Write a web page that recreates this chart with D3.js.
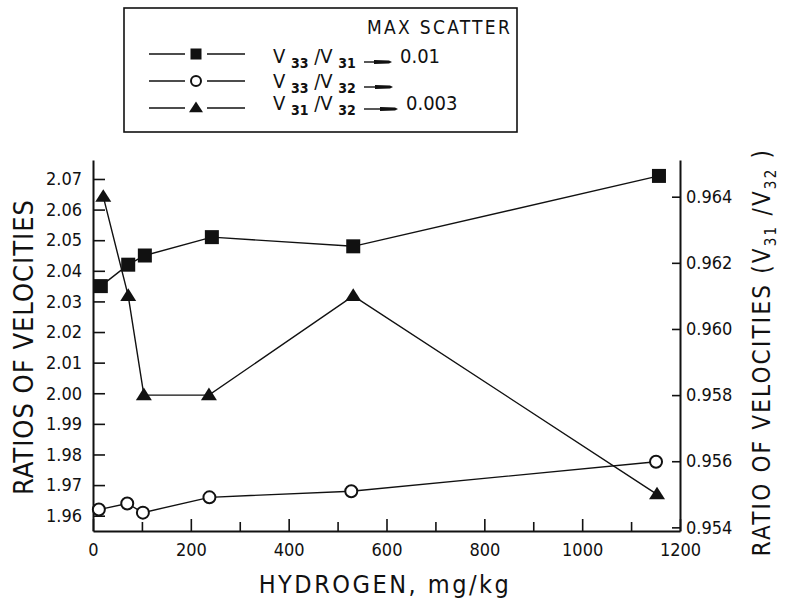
<!DOCTYPE html>
<html>
<head>
<meta charset="utf-8">
<script src="https://cdn.jsdelivr.net/npm/d3@7"></script>
<style>
  body { margin: 0; background: #fff; }
  svg text { font-family: "DejaVu Sans Condensed", "Liberation Sans Narrow", "DejaVu Sans", sans-serif; fill: #111; }
</style>
</head>
<body>
<script>
// data
const hydrogenV3331 = [16, 72, 106, 243, 532, 1157];
const ratioV3331 = [2.035, 2.042, 2.045, 2.051, 2.048, 2.071];

const hydrogenV3332 = [12, 70, 102, 238, 528, 1151];
const ratioV3332 = [1.962, 1.964, 1.961, 1.966, 1.968, 1.9776];

const hydrogenV3132 = [21, 72, 104, 237, 532, 1153];
const ratioV3132 = [0.964, 0.961, 0.958, 0.958, 0.961, 0.955];

const xTicks = [0, 100, 200, 300, 400, 500, 600, 700, 800, 900, 1000, 1100, 1200];
const leftTicks = [1.96, 1.97, 1.98, 1.99, 2.00, 2.01, 2.02, 2.03, 2.04, 2.05, 2.06, 2.07];
const rightTicks = [0.954, 0.956, 0.958, 0.960, 0.962, 0.964];

const width = 789;
const height = 603;

const svg = d3.select('body')
  .append('svg')
  .attr('width', width)
  .attr('height', height);

// scales
const x = d3.scaleLinear().domain([0, 1200]).range([93, 680]);
const yLeft = d3.scaleLinear().domain([1.955, 2.0762]).range([531, 160]);
const yRight = d3.scaleLinear().domain([0.95389, 0.96511]).range([531, 160]);

const ink = '#111';

// axes
const xAxis = d3.axisBottom(x)
  .tickValues(xTicks)
  .tickSize(0)
  .tickFormat(d => d % 200 === 0 ? d : '');

const gx = svg.append('g')
  .attr('transform', `translate(0, ${yLeft.range()[0]})`)
  .call(xAxis);
gx.select('.domain').attr('stroke', ink).attr('stroke-width', 2);
gx.selectAll('.tick line')
  .attr('y2', d => d % 200 === 0 ? -12 : -9)
  .attr('stroke', ink)
  .attr('stroke-width', 1.6);
gx.selectAll('.tick text')
  .attr('y', 12)
  .attr('font-size', 18)
  .style('font-family', null);

const gl = svg.append('g')
  .attr('transform', `translate(${x(0)}, 0)`)
  .call(d3.axisLeft(yLeft).tickValues(leftTicks).tickSize(-12).tickSizeOuter(0).tickPadding(11).tickFormat(d3.format('.2f')));
gl.select('.domain').attr('stroke', ink).attr('stroke-width', 2);
gl.selectAll('.tick line').attr('stroke', ink).attr('stroke-width', 1.6);
gl.selectAll('.tick text').attr('font-size', 18).style('font-family', null);

const gr = svg.append('g')
  .attr('transform', `translate(${x(1200)}, 0)`)
  .call(d3.axisRight(yRight).tickValues(rightTicks).tickSize(-8).tickSizeOuter(0).tickPadding(6).tickFormat(d3.format('.3f')));
gr.select('.domain').attr('stroke', ink).attr('stroke-width', 2);
gr.selectAll('.tick line').attr('stroke', ink).attr('stroke-width', 1.6);
gr.selectAll('.tick text').attr('font-size', 18).style('font-family', null);
svg.selectAll('.domain').attr('fill', 'none');

// axis titles
svg.append('text')
  .attr('x', 385)
  .attr('y', 593)
  .attr('text-anchor', 'middle')
  .attr('font-size', 25)
  .attr('letter-spacing', 2.5)
  .text('HYDROGEN, mg/kg');

svg.append('text')
  .attr('transform', 'translate(33, 347) rotate(-90)')
  .attr('text-anchor', 'middle')
  .attr('font-size', 27)
  .attr('letter-spacing', 1)
  .text('RATIOS OF VELOCITIES');

const rTitle = svg.append('text')
  .attr('transform', 'translate(770, 352) rotate(-90)')
  .attr('text-anchor', 'middle')
  .attr('font-size', 24)
  .attr('letter-spacing', 2.2);
rTitle.append('tspan').text('RATIO OF VELOCITIES (V');
rTitle.append('tspan').attr('font-size', 15).attr('dy', 6).text('31');
rTitle.append('tspan').attr('dy', -6).text(' /V');
rTitle.append('tspan').attr('font-size', 15).attr('dy', 6).text('32');
rTitle.append('tspan').attr('dy', -6).text(' )');

// series
const series = [
  { xs: hydrogenV3331, ys: ratioV3331, y: yLeft, marker: 'square' },
  { xs: hydrogenV3332, ys: ratioV3332, y: yLeft, marker: 'circle' },
  { xs: hydrogenV3132, ys: ratioV3132, y: yRight, marker: 'triangle' }
];

const line = d3.line();

function drawMarker(g, type, cx, cy, s) {
  if (type === 'square') {
    g.append('rect')
      .attr('x', cx - s / 2).attr('y', cy - s / 2)
      .attr('width', s).attr('height', s)
      .attr('fill', ink);
  } else if (type === 'circle') {
    g.append('circle')
      .attr('cx', cx).attr('cy', cy).attr('r', s / 2 - 1)
      .attr('fill', '#fff').attr('stroke', ink).attr('stroke-width', 2);
  } else {
    const h = s * 0.9;
    g.append('path')
      .attr('d', `M${cx},${cy - h * 0.6}L${cx + s / 2 + 1},${cy + h * 0.4}L${cx - s / 2 - 1},${cy + h * 0.4}Z`)
      .attr('fill', ink);
  }
}

series.forEach(s => {
  const pts = s.xs.map((d, i) => [x(d), s.y(s.ys[i])]);
  svg.append('path')
    .attr('d', line(pts))
    .attr('fill', 'none')
    .attr('stroke', ink)
    .attr('stroke-width', 1.4);
  const g = svg.append('g');
  pts.forEach(p => drawMarker(g, s.marker, p[0], p[1], 14));
});

// legend
svg.append('rect')
  .attr('x', 124).attr('y', 8)
  .attr('width', 393).attr('height', 124)
  .attr('fill', 'none')
  .attr('stroke', ink)
  .attr('stroke-width', 1.6);

svg.append('text')
  .attr('x', 367).attr('y', 34)
  .attr('font-size', 19)
  .attr('letter-spacing', 2.3)
  .text('MAX SCATTER');

const legendRows = [
  { marker: 'square', a: '33', b: '31', scatter: '0.01' },
  { marker: 'circle', a: '33', b: '32', scatter: '' },
  { marker: 'triangle', a: '31', b: '32', scatter: '0.003' }
];
const rowY = [54, 81, 108];
const textY = [63, 88, 110];
const arrowEnd = [392, 393, 398];

legendRows.forEach((r, i) => {
  const cy = rowY[i];
  const g = svg.append('g');
  g.append('line').attr('x1', 149).attr('x2', 185).attr('y1', cy).attr('y2', cy)
    .attr('stroke', ink).attr('stroke-width', 1.4);
  g.append('line').attr('x1', 207).attr('x2', 245).attr('y1', cy).attr('y2', cy)
    .attr('stroke', ink).attr('stroke-width', 1.4);
  drawMarker(g, r.marker, 196, cy, r.marker === 'square' ? 11 : 12);

  const ty = textY[i];
  const t = g.append('text')
    .attr('x', 273).attr('y', ty)
    .attr('font-size', 20);
  t.append('tspan').text('V ');
  t.append('tspan').attr('font-size', 14).attr('font-weight', 'bold').attr('dy', 5).text(r.a);
  t.append('tspan').attr('dy', -5).text(' /V ');
  t.append('tspan').attr('font-size', 14).attr('font-weight', 'bold').attr('dy', 5).text(r.b);

  // scatter arrow
  const ay = ty - 1;
  const x1 = 364;
  const x2 = arrowEnd[i];
  g.append('line').attr('x1', x1).attr('x2', x2 - 12).attr('y1', ay).attr('y2', ay)
    .attr('stroke', ink).attr('stroke-width', 1.4);
  g.append('path')
    .attr('d', `M${x2 - 18},${ay - 2}L${x2 - 3},${ay - 1.5}L${x2},${ay}L${x2 - 3},${ay + 1.5}L${x2 - 18},${ay + 2}Z`)
    .attr('fill', ink);

  if (r.scatter) {
    g.append('text')
      .attr('x', x2 + 8).attr('y', ty)
      .attr('font-size', 20)
      .text(r.scatter);
  }
});
</script>
</body>
</html>
